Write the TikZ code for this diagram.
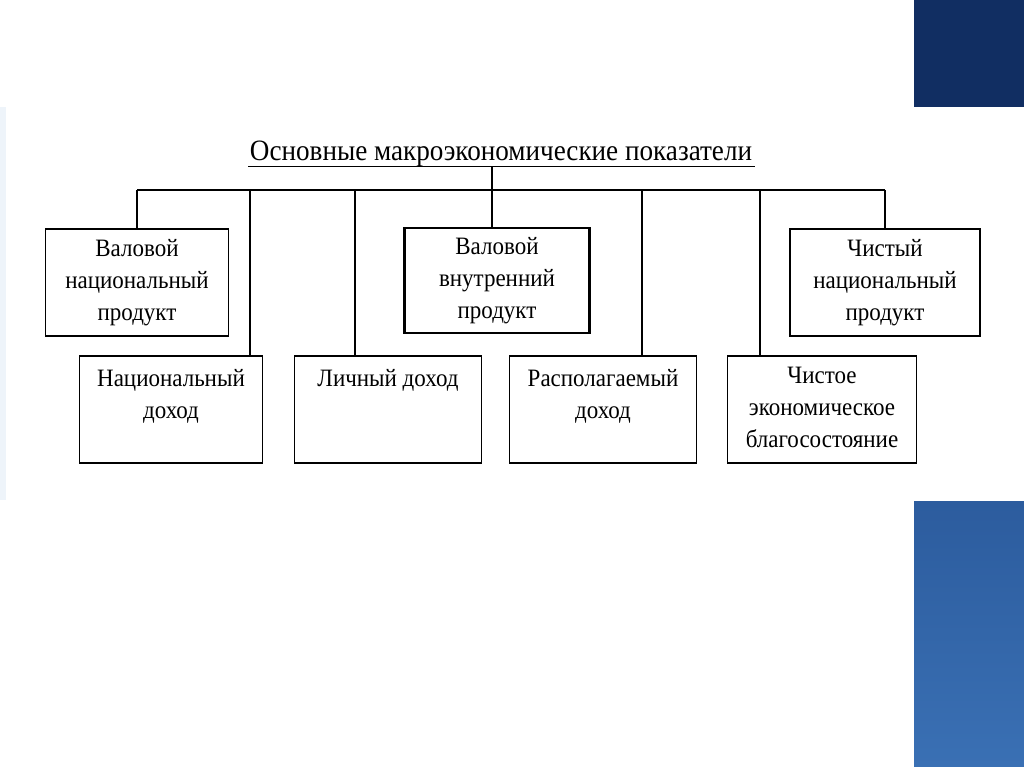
\documentclass[tikz,border=0pt]{standalone}
\usepackage{fontspec}
\setmainfont[FakeStretch=0.92]{Liberation Serif}
\usepackage{xcolor}
\usetikzlibrary{positioning}
\definecolor{navy}{HTML}{112E62}
\definecolor{bluetop}{HTML}{2C5C9E}
\definecolor{bluebot}{HTML}{3A70B4}
\definecolor{paleedge}{HTML}{EEF4FA}

\begin{document}
\begin{tikzpicture}[
  x=1pt, y=-1pt, font=\fontsize{25}{32}\selectfont,
  box/.style={draw,line width=1.6pt,minimum width=183pt,minimum height=107pt,align=center,inner sep=0pt},
  topbox/.style={box,anchor=north},
  link/.style={line width=1.3pt}
]
\useasboundingbox (0,0) rectangle (1024,767);
% slide background
\fill[navy] (914,0) rectangle (1024,107);
\shade[top color=bluetop,bottom color=bluebot] (914,501) rectangle (1024,767);
\fill[paleedge] (0,107) rectangle (6,500);

% heading
\node[font=\fontsize{29.5}{32}\selectfont,inner sep=0pt,anchor=base] (title) at (501,161) {Основные макроэкономические показатели};
\draw[line width=1pt] (248,167) coordinate (ul) -- (755,167);
\coordinate (bus) at (0,190);

% first row
\node[topbox] (gnp) at (137,228) {Валовой\\национальный\\продукт};
\node[topbox,line width=2.4pt,minimum width=185pt,minimum height=105pt] (gdp) at (497,227) {Валовой\\внутренний\\продукт};
\node[topbox,minimum width=190pt] (nnp) at (885,228) {Чистый\\национальный\\продукт};

% second row
\node[topbox] (ni) at (171,355) {\parbox[c][80pt][t]{180pt}{\centering Национальный\\доход}};
\node[topbox,minimum width=187pt] (pi) at (388,355) {\parbox[c][80pt][t]{180pt}{\centering Личный доход}};
\node[topbox,minimum width=187pt] (di) at (603,355) {\parbox[c][80pt][t]{180pt}{\centering Располагаемый\\доход}};
\node[topbox,minimum width=189pt] (new) at (822,355) {\parbox[c][84pt][t]{186pt}{\centering Чистое\\экономическое\\благосостояние}};

% connectors
\coordinate (d1) at (250,190);
\coordinate (d2) at (355,190);
\coordinate (d3) at (642,190);
\coordinate (d4) at (760,190);
\draw[link] (492,167) -- (492,227);
\draw[link] (gnp.north |- bus) -- (nnp.north |- bus);
\draw[link] (gnp.north |- bus) -- (gnp.north);
\draw[link] (nnp.north |- bus) -- (nnp.north);
\draw[link] (d1) -- (d1 |- ni.north);
\draw[link] (d2) -- (d2 |- pi.north);
\draw[link] (d3) -- (d3 |- di.north);
\draw[link] (d4) -- (d4 |- new.north);
\end{tikzpicture}
\end{document}
